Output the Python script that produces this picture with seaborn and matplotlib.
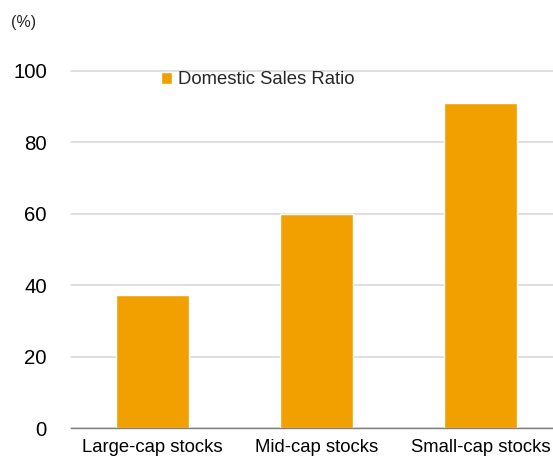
import matplotlib
matplotlib.use("Agg")
import matplotlib.pyplot as plt
import seaborn as sns
import pandas as pd

categories = ["Large-cap stocks", "Mid-cap stocks", "Small-cap stocks"]
values = [37.3, 60.0, 91.0]
series_name = "Domestic Sales Ratio"
yticks = [0, 20, 40, 60, 80, 100]

sns.set_theme(style="white")
plt.rcParams['font.family'] = ['Liberation Sans', 'DejaVu Sans']

df = pd.DataFrame({"cat": categories, "val": values, "series": series_name})

W, H = 553, 459
fig = plt.figure(figsize=(W / 100, H / 100), dpi=100)
ax = fig.add_axes([70.5 / W, (H - 428) / H, 492 / W, (428 - 71) / H])

sns.barplot(data=df, x="cat", y="val", hue="series", palette=["#F2A000"],
            width=0.445, ax=ax, saturation=1, legend=True)

ax.set_ylim(0, 100)
ax.set_xlim(-0.5, 2.5)
ax.set_yticks(yticks)
ax.set_yticklabels([str(v) for v in yticks], fontsize=14.7, color="#000000")
ax.yaxis.grid(True, color="#D9D9D9", linewidth=1.2, clip_on=False)
ax.set_axisbelow(True)
for s in ["left", "right", "top"]:
    ax.spines[s].set_visible(False)
ax.spines["bottom"].set_color("#808080")
ax.spines["bottom"].set_linewidth(1.0)
ax.tick_params(axis="y", length=0, pad=17)
ax.set_xticks([0, 1, 2])
ax.set_xticklabels(categories, fontsize=13.3, color="#000000")
ax.tick_params(axis="x", length=0, pad=8)
ax.set_xticks([0.5, 1.5], minor=True)
ax.tick_params(axis="x", which="minor", length=5, color="#808080", width=1, direction="out")
ax.set_xlabel("")
ax.set_ylabel("")

leg = ax.legend(loc="upper left", bbox_to_anchor=((154 - 70.5) / 492, (428 - 64) / 357),
                frameon=False, fontsize=13.3, handlelength=0.6, handleheight=0.6,
                handletextpad=0.3, borderaxespad=0)

fig.text(11 / W, 1 - 23 / H, "(%)", fontsize=11.5, va="center", ha="left")

fig.savefig("out.png", dpi=100)
